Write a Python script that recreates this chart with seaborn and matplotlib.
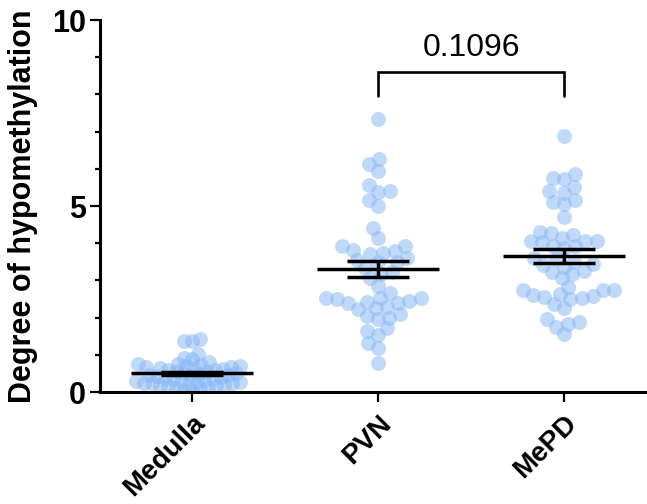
import numpy as np
import pandas as pd
import matplotlib
matplotlib.use("Agg")
import matplotlib.pyplot as plt
from matplotlib.path import Path
from matplotlib.ticker import MultipleLocator
import seaborn as sns

categories = ["Medulla", "PVN", "MePD"]

medulla = [1.42, 1.38, 1.36, 1.02, 0.92, 0.88, 0.80, 0.76, 0.74, 0.72,
           0.70, 0.70, 0.68, 0.66, 0.65, 0.64, 0.62, 0.60, 0.58, 0.56,
           0.55, 0.52, 0.50, 0.48, 0.47, 0.45, 0.44, 0.42, 0.40, 0.38,
           0.36, 0.35, 0.33, 0.30, 0.30, 0.28, 0.26, 0.25, 0.25, 0.24,
           0.22, 0.20, 0.18, 0.15, 0.15, 0.12, 0.10, 0.08, 0.05, 0.03]

pvn = [7.35, 6.26, 6.12, 5.93, 5.56, 5.40, 5.38, 5.16, 4.99, 4.40,
       4.13, 3.93, 3.93, 3.82, 3.79, 3.75, 3.70, 3.61, 3.55, 3.50,
       3.49, 3.32, 3.23, 3.16, 3.06, 2.85, 2.65, 2.53, 2.53, 2.52,
       2.50, 2.45, 2.43, 2.38, 2.38, 2.29, 2.25, 2.22, 2.09, 2.05,
       2.00, 1.96, 1.71, 1.64, 1.53, 1.31, 1.17, 0.77]

mepd = [6.89, 5.85, 5.74, 5.73, 5.50, 5.39, 5.36, 5.16, 5.11, 5.05,
        4.70, 4.31, 4.27, 4.22, 4.15, 4.07, 4.07, 4.07, 4.02, 3.93,
        3.93, 3.86, 3.59, 3.57, 3.50, 3.43, 3.41, 3.37, 3.25, 3.23,
        3.17, 3.07, 2.83, 2.74, 2.74, 2.74, 2.63, 2.61, 2.59, 2.55,
        2.52, 2.50, 2.37, 2.25, 1.96, 1.87, 1.83, 1.76, 1.55]

y_ticks = [0, 5, 10]
y_label = "Degree of hypomethylation"
p_label = "0.1096"
compare_pair = ("PVN", "MePD")

sns.set_theme(style="ticks")
plt.rcParams["font.family"] = ["Liberation Sans", "DejaVu Sans"]
plt.rcParams["text.color"] = "black"
plt.rcParams["axes.labelcolor"] = "black"
plt.rcParams["xtick.color"] = "black"
plt.rcParams["ytick.color"] = "black"

groups = {"Medulla": medulla, "PVN": pvn, "MePD": mepd}
df = pd.DataFrame({
    "region": [k for k, v in groups.items() for _ in v],
    "value": [x for v in groups.values() for x in v],
})

fig = plt.figure(figsize=(6.47, 5.04), dpi=100)
ax = fig.add_axes([100 / 647, 1 - 392 / 504, 547 / 647, 372 / 504])

marker_pt = 10.8  # visual marker diameter in points
# dense group packed more tightly (markers overlap like the original)
layout_sizes = {"Medulla": 5.6, "PVN": 7.9, "MePD": 7.9}
for cat in categories:
    n_before = len(ax.collections)
    sns.swarmplot(data=df[df["region"] == cat], x="region", y="value",
                  order=categories, color="#85b5f5", alpha=0.5,
                  size=layout_sizes[cat], linewidth=0, ax=ax, zorder=1)
    r = marker_pt / layout_sizes[cat] / 2
    for coll in ax.collections[n_before:]:
        coll.set_paths([Path.circle((0, 0), r)])

for i, cat in enumerate(categories):
    v = np.asarray(groups[cat], dtype=float)
    m = v.mean()
    se = v.std(ddof=1) / np.sqrt(len(v))
    ax.hlines(m, i - 0.33, i + 0.33, color="black", lw=2.5, zorder=4)
    ax.hlines([m - se, m + se], i - 0.165, i + 0.165, color="black", lw=2.5, zorder=4)
    ax.vlines(i, m - se, m + se, color="black", lw=2.5, zorder=4)

# significance bracket
x1 = categories.index(compare_pair[0])
x2 = categories.index(compare_pair[1])
ax.plot([x1, x1, x2, x2], [7.96, 8.6, 8.6, 7.96], color="black", lw=1.9,
        solid_joinstyle="miter", zorder=4)
ax.text((x1 + x2) / 2, 8.85, p_label, ha="center", va="bottom",
        fontsize=23, color="black")

ax.set_ylim(0, 10)
ax.set_xlim(-0.495, 2.446)
ax.set_yticks(y_ticks)
ax.yaxis.set_minor_locator(MultipleLocator(1))
ax.set_xlabel("")
ax.set_ylabel(y_label, fontsize=22, fontweight="bold", labelpad=10)

for side in ["top", "right"]:
    ax.spines[side].set_visible(False)
for side in ["left", "bottom"]:
    ax.spines[side].set_linewidth(2.2)
    ax.spines[side].set_color("black")

ax.tick_params(axis="y", which="major", length=7.2, width=1.6, labelsize=22, pad=3)
ax.tick_params(axis="y", which="minor", length=3.6, width=1.6)
ax.tick_params(axis="x", which="major", length=7, width=1.6, labelsize=20, pad=6)

for lab in ax.get_yticklabels():
    lab.set_fontweight("bold")
for lab in ax.get_xticklabels():
    lab.set_fontweight("bold")
    lab.set_rotation(45)
    lab.set_ha("right")
    lab.set_rotation_mode("anchor")

fig.savefig("out.png", dpi=100)
